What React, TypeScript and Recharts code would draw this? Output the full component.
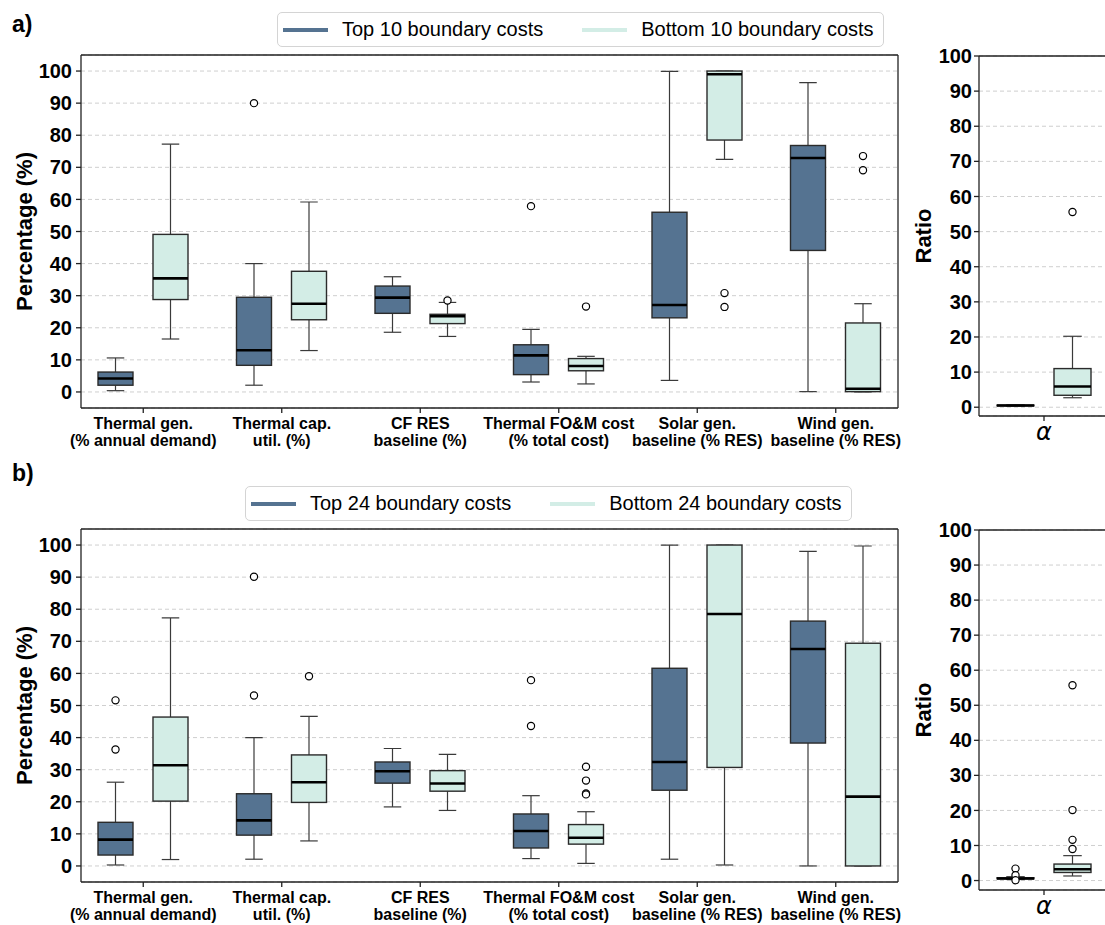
import React from "react";
import {
  ComposedChart,
  Bar,
  XAxis,
  YAxis,
  CartesianGrid,
  Legend,
  Label,
} from "recharts";

const FONT = "'Liberation Sans', Arial, Helvetica, sans-serif";
const DARK = "#557391";
const LIGHT = "#d3ede6";

const categories = [
  "Thermal gen.|(% annual demand)",
  "Thermal cap.|util. (%)",
  "CF RES|baseline (%)",
  "Thermal FO&M cost|(% total cost)",
  "Solar gen.|baseline (% RES)",
  "Wind gen.|baseline (% RES)",
];
const alphaCategories = ["α"];
const yTicks = [0, 10, 20, 30, 40, 50, 60, 70, 80, 90, 100];

// each box: [lower whisker, q1, median, q3, upper whisker]
const top10 = [
  [0.4, 2.1, 4.2, 6.2, 10.6],
  [2.1, 8.3, 13.0, 29.5, 40.0],
  [18.6, 24.5, 29.4, 33.0, 35.9],
  [3.1, 5.4, 11.4, 14.7, 19.5],
  [3.6, 23.1, 27.1, 56.0, 99.9],
  [0.1, 44.1, 72.9, 76.8, 96.4],
];
const top10Fliers = [[], [90.0], [], [57.9], [], []];

const bottom10 = [
  [16.5, 28.8, 35.4, 49.1, 77.2],
  [12.9, 22.5, 27.5, 37.6, 59.2],
  [17.3, 21.3, 23.6, 24.2, 27.9],
  [2.5, 6.6, 8.1, 10.4, 11.1],
  [72.5, 78.5, 99.0, 100, 100],
  [0, 0.1, 1.0, 21.5, 27.5],
];
const bottom10Fliers = [[], [], [28.5], [26.6], [30.8, 26.5], [73.5, 69.1]];

const top24 = [
  [0.3, 3.4, 8.2, 13.6, 26.1],
  [2.1, 9.6, 14.2, 22.5, 40.0],
  [18.4, 25.8, 29.5, 32.4, 36.6],
  [2.3, 5.6, 10.9, 16.2, 21.9],
  [2.1, 23.6, 32.4, 61.6, 100],
  [0, 38.3, 67.6, 76.3, 98.0],
];
const top24Fliers = [[51.6, 36.3], [90.1, 53.1], [], [57.9, 43.6], [], []];

const bottom24 = [
  [2.0, 20.2, 31.4, 46.4, 77.3],
  [7.8, 19.8, 26.1, 34.6, 46.6],
  [17.3, 23.3, 25.7, 29.7, 34.8],
  [0.8, 6.8, 8.8, 12.9, 16.9],
  [0.3, 30.7, 78.5, 100, 100],
  [0, 0, 21.6, 69.4, 99.7],
];
const bottom24Fliers = [[], [59.1], [], [30.9, 26.6, 22.6, 22.3], [], []];

const alphaTop10 = [[0.3, 0.4, 0.5, 0.6, 0.7]];
const alphaTop10Fliers = [[]];
const alphaBottom10 = [[2.7, 3.4, 5.9, 11.0, 20.2]];
const alphaBottom10Fliers = [[55.6]];

const alphaTop24 = [[0.3, 0.5, 0.6, 0.8, 1.1]];
const alphaTop24Fliers = [[3.4, 1.5, 0.1]];
const alphaBottom24 = [[1.3, 2.3, 3.2, 4.7, 7.1]];
const alphaBottom24Fliers = [[55.7, 20.1, 11.6, 9.0]];

function buildRows(cats: string[], top: number[][], topF: number[][], bot: number[][], botF: number[][]) {
  return cats.map((c, i) => ({
    cat: c,
    top: top[i],
    topFliers: topF[i],
    bot: bot[i],
    botFliers: botF[i],
  }));
}

// draws a box plot inside the range bar [whisker low, whisker high]
function BoxShape(props: any) {
  const { x, y, width, height, payload, fill, statKey, fliersKey } = props;
  const s = payload[statKey];
  const fliers: number[] = payload[fliersKey] || [];
  const [lo, q1, med, q3, hi] = s;
  const py = (v: number) => y + ((hi - v) / (hi - lo)) * height;
  const cx = x + width / 2;
  const cap = width / 4;
  const wStroke = "#3a3a3a";
  return (
    <g>
      <line x1={cx} x2={cx} y1={py(hi)} y2={py(q3)} stroke={wStroke} strokeWidth={1.2} />
      <line x1={cx} x2={cx} y1={py(q1)} y2={py(lo)} stroke={wStroke} strokeWidth={1.2} />
      <line x1={cx - cap} x2={cx + cap} y1={py(hi)} y2={py(hi)} stroke={wStroke} strokeWidth={1.2} />
      <line x1={cx - cap} x2={cx + cap} y1={py(lo)} y2={py(lo)} stroke={wStroke} strokeWidth={1.2} />
      <rect
        x={x}
        y={py(q3)}
        width={width}
        height={Math.max(py(q1) - py(q3), 0.5)}
        fill={fill}
        stroke="#2b2b2b"
        strokeWidth={1.4}
      />
      <line x1={x} x2={x + width} y1={py(med)} y2={py(med)} stroke="#000" strokeWidth={2.6} />
      {fliers.map((f, i) => (
        <circle key={i} cx={cx} cy={py(f)} r={3.6} fill="#fff" stroke="#000" strokeWidth={1.2} />
      ))}
    </g>
  );
}

function CatTick(props: any) {
  const { x, y, payload } = props;
  const [l1, l2] = String(payload.value).split("|");
  return (
    <text x={x} y={y} textAnchor="middle" fontFamily={FONT} fontSize={16} fontWeight={700} fill="#000">
      <tspan x={x} dy={13.5}>{l1}</tspan>
      <tspan x={x} dy={17.5}>{l2}</tspan>
    </text>
  );
}

function AlphaTick(props: any) {
  const { x, y, payload } = props;
  return (
    <text x={x} y={y + 17} textAnchor="middle" fontFamily="'DejaVu Sans', sans-serif" fontStyle="italic" fontSize={24} fill="#000">
      {payload.value}
    </text>
  );
}

const yLabel = (text: string, dx: number) => (props: any) => {
  const vb = props.viewBox;
  const cx = vb.x + dx;
  const cy = vb.y + vb.height / 2;
  return (
    <text
      x={cx}
      y={cy}
      transform={`rotate(-90, ${cx}, ${cy})`}
      textAnchor="middle"
      dominantBaseline="central"
      fontFamily={FONT}
      fontSize={22}
      fontWeight={700}
      fill="#000"
    >
      {text}
    </text>
  );
};

function LegendBox(props: any) {
  const items = [...(props.payload || [])].sort(
    (a: any, b: any) => (a.color === DARK ? 0 : 1) - (b.color === DARK ? 0 : 1)
  );
  return (
    <div
      style={{
        display: "inline-flex",
        alignItems: "center",
        height: 35,
        boxSizing: "border-box",
        border: "1px solid #d4d4d4",
        borderRadius: 5,
        background: "#fff",
        padding: "0 9px 0 5px",
        fontFamily: FONT,
        fontSize: 20,
        color: "#000",
      }}
    >
      {items.map((it: any, i: number) => (
        <span key={i} style={{ display: "inline-flex", alignItems: "center", marginLeft: i ? 39 : 0 }}>
          <span style={{ display: "inline-block", width: 45, height: 4, background: it.color }} />
          <span style={{ marginLeft: 14, whiteSpace: "nowrap" }}>{it.value}</span>
        </span>
      ))}
    </div>
  );
}

const axisStroke = { stroke: "#222", strokeWidth: 1.3 };
const tickStyle = { fontSize: 20, fontWeight: 700, fill: "#000", fontFamily: FONT };

function MainPanel({ rows, topName, botName, legendLeft }: any) {
  return (
    <ComposedChart
      width={910}
      height={470}
      data={rows}
      margin={{ top: 54, right: 11, bottom: 12, left: 1 }}
      barGap={20}
    >
      <CartesianGrid horizontal vertical={false} stroke="#cfcfcf" strokeDasharray="4 3" />
      <XAxis
        dataKey="cat"
        interval={0}
        height={50}
        tick={<CatTick />}
        tickSize={5}
        tickLine={axisStroke}
        axisLine={axisStroke}
        padding={{ left: -7, right: -7 }}
      />
      <XAxis xAxisId="top" dataKey="cat" orientation="top" height={1} tick={false} tickLine={false} axisLine={axisStroke} />
      <YAxis
        domain={[-5, 105]}
        ticks={yTicks}
        allowDataOverflow
        width={80}
        tickSize={5}
        tickMargin={4}
        tick={tickStyle}
        tickLine={axisStroke}
        axisLine={axisStroke}
      >
        <Label content={yLabel("Percentage (%)", 23)} />
      </YAxis>
      <YAxis yAxisId="right" orientation="right" width={1} domain={[-5, 105]} tick={false} tickLine={false} axisLine={axisStroke} />
      <Legend
        layout="horizontal"
        verticalAlign="middle"
        align="center"
        wrapperStyle={{ top: 12, left: legendLeft, width: "auto", height: "auto" }}
        content={<LegendBox />}
      />
      <Bar
        dataKey={(d: any) => [d.top[0], d.top[4]]}
        name={topName}
        fill={DARK}
        barSize={35}
        isAnimationActive={false}
        shape={(p: any) => <BoxShape {...p} statKey="top" fliersKey="topFliers" />}
      />
      <Bar
        dataKey={(d: any) => [d.bot[0], d.bot[4]]}
        name={botName}
        fill={LIGHT}
        barSize={35}
        isAnimationActive={false}
        shape={(p: any) => <BoxShape {...p} statKey="bot" fliersKey="botFliers" />}
      />
    </ComposedChart>
  );
}

function AlphaPanel({ rows, yMin }: any) {
  return (
    <ComposedChart
      width={215}
      height={470}
      data={rows}
      margin={{ top: 55, right: 6, bottom: 14, left: 0 }}
      barGap={20}
    >
      <CartesianGrid horizontal vertical={false} stroke="#cfcfcf" strokeDasharray="4 3" />
      <XAxis
        dataKey="cat"
        interval={0}
        height={40}
        tick={<AlphaTick />}
        tickSize={5}
        tickLine={axisStroke}
        axisLine={axisStroke}
      />
      <XAxis xAxisId="top" dataKey="cat" orientation="top" height={1} tick={false} tickLine={false} axisLine={axisStroke} />
      <YAxis
        domain={[yMin, 100]}
        ticks={yTicks}
        allowDataOverflow
        width={79}
        tickSize={5}
        tickMargin={2}
        tick={tickStyle}
        tickLine={axisStroke}
        axisLine={axisStroke}
      >
        <Label content={yLabel("Ratio", 23)} />
      </YAxis>
      <Bar
        dataKey={(d: any) => [d.top[0], d.top[4]]}
        fill={DARK}
        barSize={37}
        isAnimationActive={false}
        shape={(p: any) => <BoxShape {...p} statKey="top" fliersKey="topFliers" />}
      />
      <Bar
        dataKey={(d: any) => [d.bot[0], d.bot[4]]}
        fill={LIGHT}
        barSize={37}
        isAnimationActive={false}
        shape={(p: any) => <BoxShape {...p} statKey="bot" fliersKey="botFliers" />}
      />
    </ComposedChart>
  );
}

const panelLabel = (text: string, top: number) => (
  <div
    style={{
      position: "absolute",
      left: 12,
      top,
      fontFamily: FONT,
      fontSize: 23,
      fontWeight: 700,
      lineHeight: "23px",
      color: "#000",
    }}
  >
    {text}
  </div>
);

export default function App() {
  const rowsA = buildRows(categories, top10, top10Fliers, bottom10, bottom10Fliers);
  const rowsB = buildRows(categories, top24, top24Fliers, bottom24, bottom24Fliers);
  const alphaA = buildRows(alphaCategories, alphaTop10, alphaTop10Fliers, alphaBottom10, alphaBottom10Fliers);
  const alphaB = buildRows(alphaCategories, alphaTop24, alphaTop24Fliers, alphaBottom24, alphaBottom24Fliers);
  return (
    <div
      style={{
        position: "absolute",
        left: 0,
        top: 0,
        width: 1105,
        height: 925,
        overflow: "hidden",
        background: "#fff",
      }}
    >
      <div style={{ position: "absolute", left: 0, top: 0 }}>
        <MainPanel rows={rowsA} topName="Top 10 boundary costs" botName="Bottom 10 boundary costs" legendLeft={277} />
      </div>
      <div style={{ position: "absolute", left: 900, top: 0 }}>
        <AlphaPanel rows={alphaA} yMin={-2.5} />
      </div>
      <div style={{ position: "absolute", left: 0, top: 474 }}>
        <MainPanel rows={rowsB} topName="Top 24 boundary costs" botName="Bottom 24 boundary costs" legendLeft={245} />
      </div>
      <div style={{ position: "absolute", left: 900, top: 474 }}>
        <AlphaPanel rows={alphaB} yMin={-2.7} />
      </div>
      {panelLabel("a)", 13)}
      {panelLabel("b)", 462)}
    </div>
  );
}
